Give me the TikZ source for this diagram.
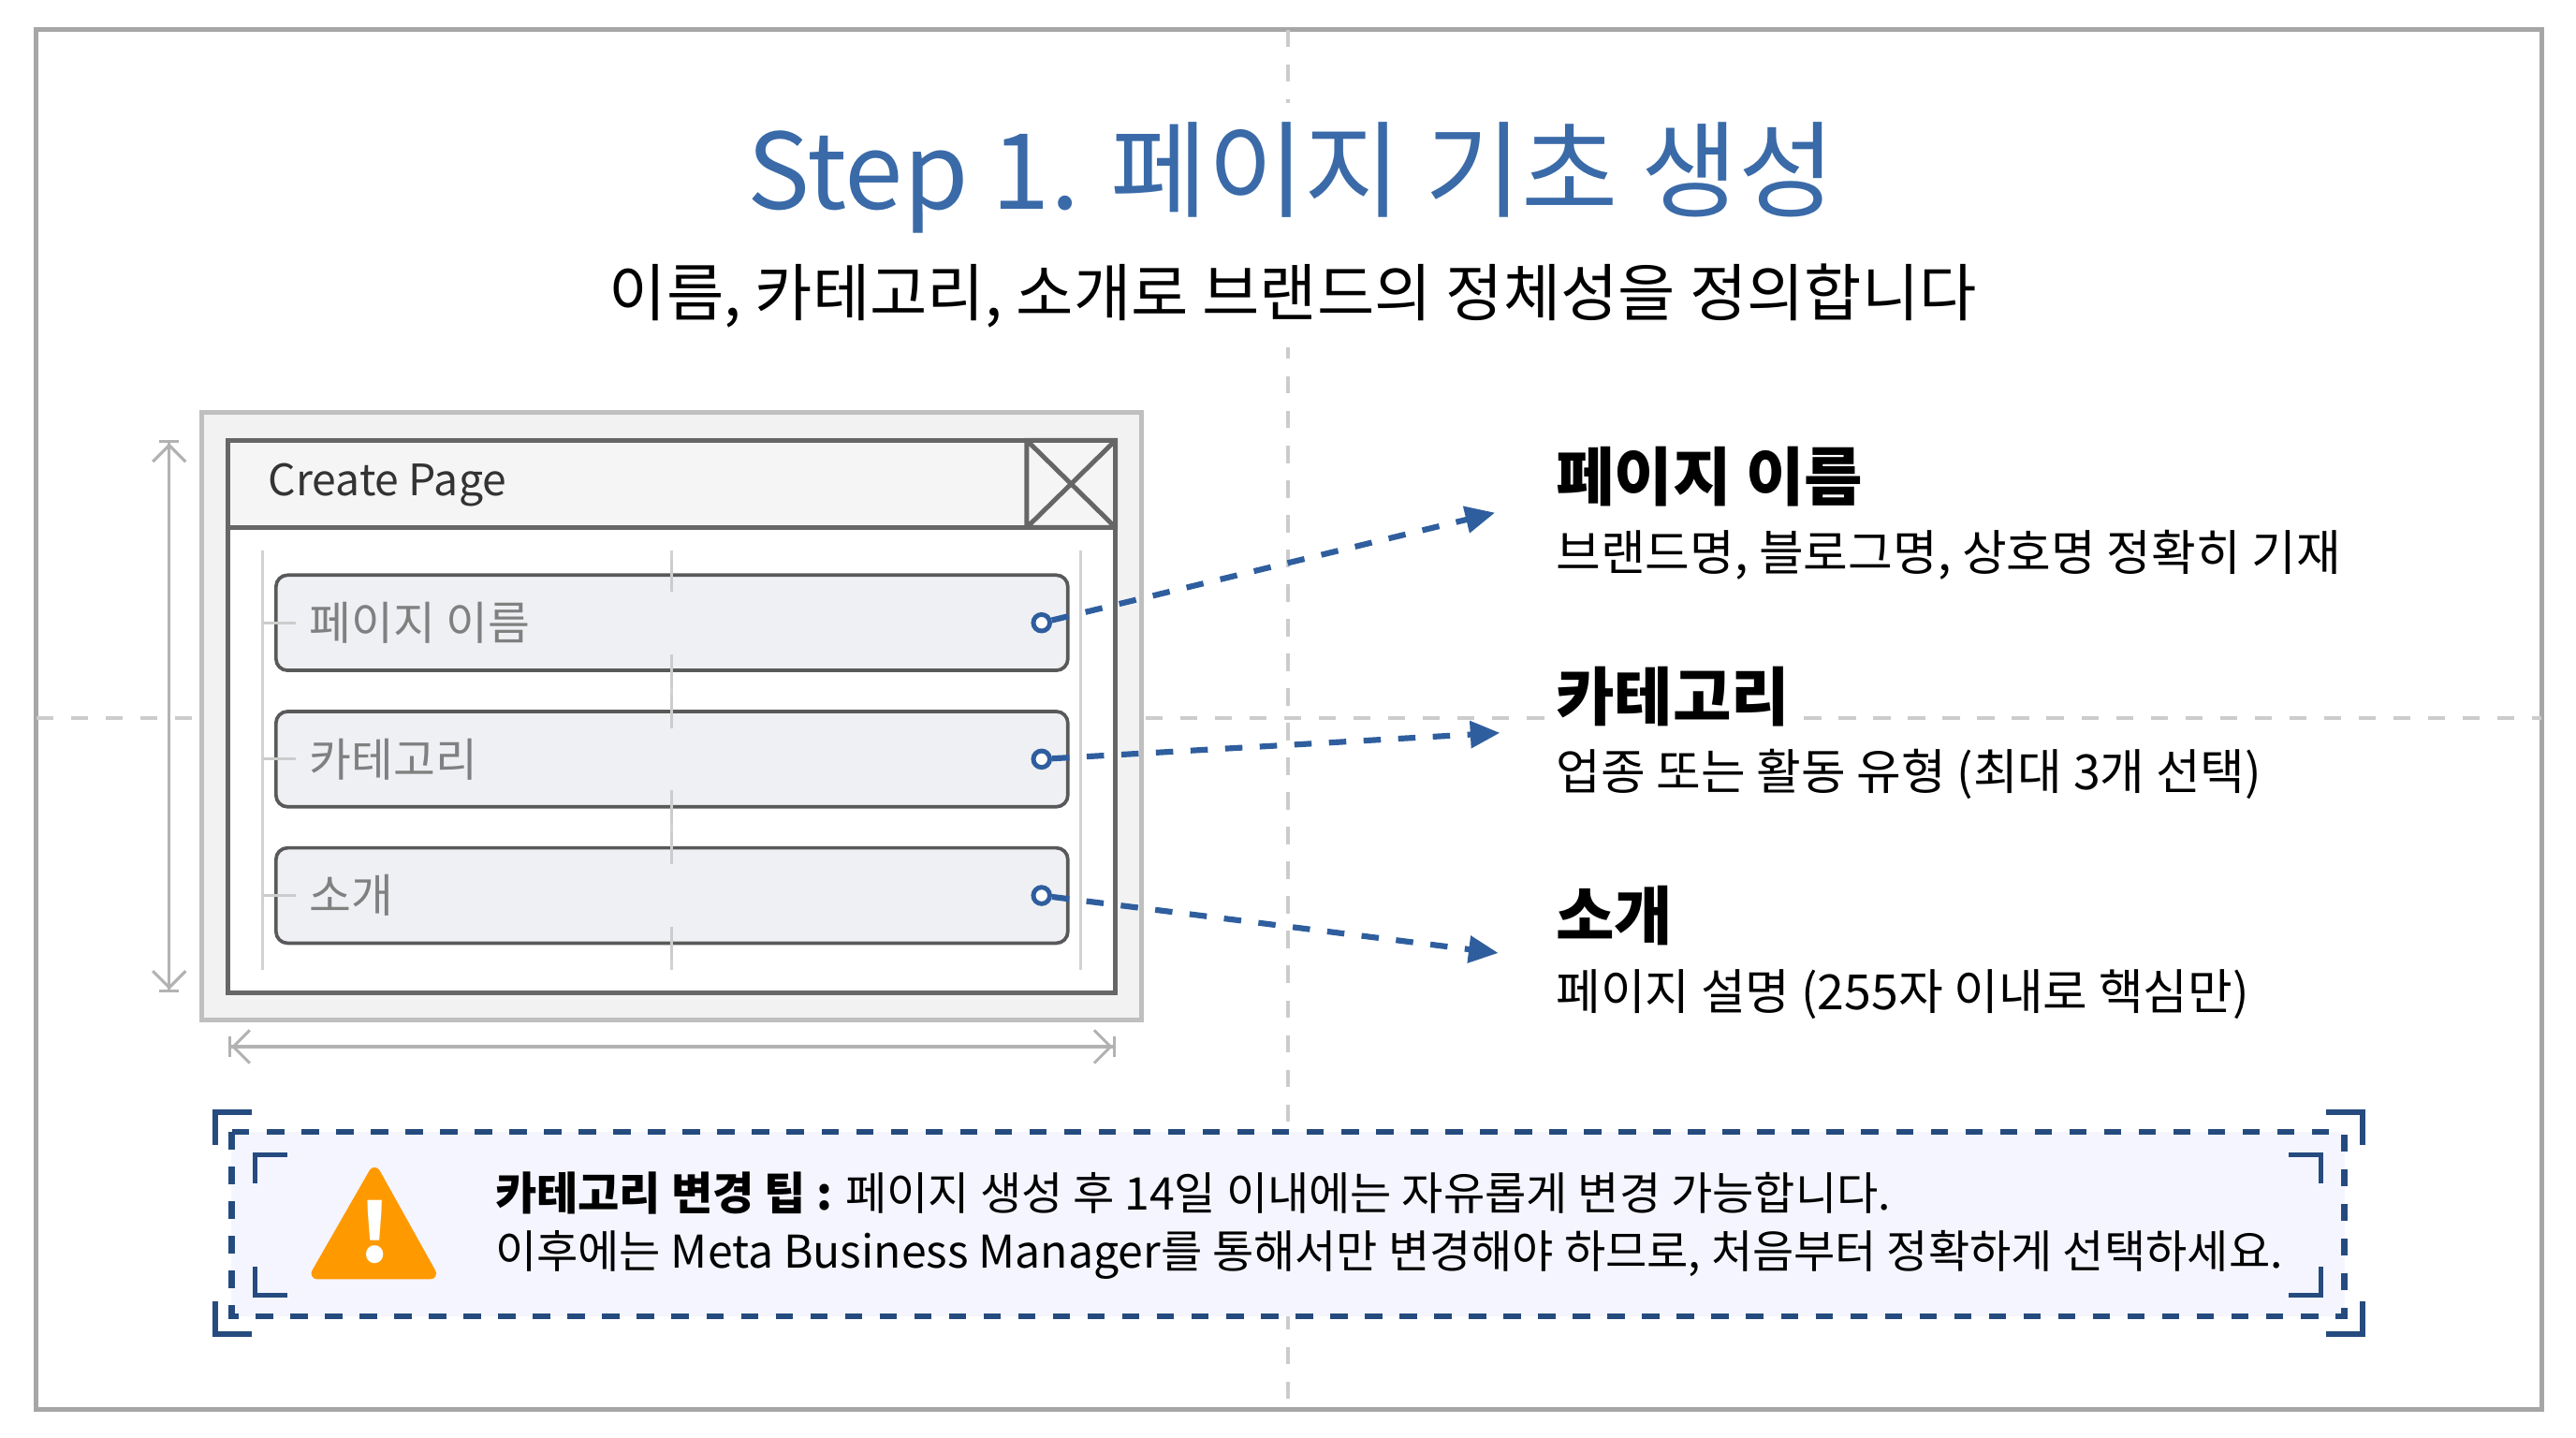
\documentclass[tikz,border=0pt]{standalone}
\usepackage{fontspec}
\setmainfont{Noto Sans CJK KR}
\usetikzlibrary{arrows.meta}
\definecolor{tblue}{HTML}{3A6AA8}
\definecolor{aBlue}{HTML}{2F5E9E}
\definecolor{fgray}{HTML}{EEF0F3}
\begin{document}
\begin{tikzpicture}[x=0.01cm,y=-0.01cm,
 guide/.style={draw=gray!40,dashed,line width=0.5pt},
 field/.style={draw=gray!70!black,fill=fgray,rounded corners=2pt,line width=0.6pt},
 ftext/.style={anchor=west,text=gray,font=\fontsize{7.9}{10}\selectfont},
 dot/.style={circle,draw=aBlue,fill=white,line width=0.8pt,inner sep=0pt,minimum size=0.1cm},
 link/.style={draw=aBlue,dashed,line width=1pt,-{Triangle[length=0.18cm,width=0.16cm]}},
 head/.style={anchor=west,font=\bfseries\fontsize{11}{13}\selectfont,fill=white,inner sep=1pt},
 desc/.style={anchor=west,font=\fontsize{8.4}{10}\selectfont,fill=white,inner sep=1pt},
 dim/.style={draw=gray!60,line width=0.5pt,{Bar[width=0.12cm]Straight Barb[length=0.1cm]}-{Straight Barb[length=0.1cm]Bar[width=0.12cm]}},
 brk/.style={draw=aBlue!80!black,line width=1pt}]
\useasboundingbox (0,0) rectangle (1568,875);
\fill[white] (0,0) rectangle (1568,875);
\draw[gray!70,line width=0.8pt] (22,18) rectangle (1547,858);
\draw[guide] (784,18) -- (784,858);
\draw[guide] (22,437) -- (1547,437);
\node[fill=white,text=tblue,font=\fontsize{18.2}{22}\selectfont] (title) at (786,108) {Step 1. 페이지 기초 생성};
\node[fill=white,font=\fontsize{10.8}{13}\selectfont] (sub) at (787,180) {이름, 카테고리, 소개로 브랜드의 정체성을 정의합니다};
% form
\draw[gray!50,fill=gray!10,line width=0.8pt] (123,251) rectangle (695,621);
\draw[gray!80!black,fill=white,line width=0.8pt] (139,268) rectangle (679,604);
\draw[gray!80!black,fill=gray!8,line width=0.8pt] (139,268) rectangle (679,321);
\node[anchor=west,font=\fontsize{7.5}{9}\selectfont,text=black!80] (cp) at (151,295) {Create Page};
\draw[gray!80!black,line width=0.8pt] (625,268) rectangle (679,321) (625,268)--(679,321) (679,268)--(625,321);
\draw[gray!35,line width=0.5pt] (409,335)--(409,590) (160,335)--(160,590) (658,335)--(658,590);
\foreach \y/\t/\n in {379/페이지 이름/a,462/카테고리/b,545/소개/c}{
 \draw[field] (168,\y-29) rectangle (650,\y+29);
 \draw[gray!40,line width=0.5pt] (160,\y)--(180,\y) (409,\y-39)--(409,\y-19) (409,\y+19)--(409,\y+39);
 \node[ftext] at (176,\y) {\t};
 \node[dot] (d\n) at (634,\y) {};
}
\draw[dim] (103,268) -- (103,604);
\draw[dim] (139,637) -- (679,637);
% right labels
\coordinate (ea) at (910,312); \coordinate (eb) at (913,446); \coordinate (ec) at (912,580);
\draw[link] (da) -- (ea);
\draw[link] (db) -- (eb);
\draw[link] (dc) -- (ec);
\node[head] (h1) at (943,290) {페이지 이름};
\node[desc] (t1) at (943,338) {브랜드명, 블로그명, 상호명 정확히 기재};
\node[head] (h2) at (943,424) {카테고리};
\node[desc] (t2) at (943,471) {업종 또는 활동 유형 (최대 3개 선택)};
\node[head] (h3) at (943,557) {소개};
\node[desc] (t3) at (943,605) {페이지 설명 (255자 이내로 핵심만)};
% tip box
\draw[aBlue!80!black,dashed,fill=blue!4,line width=1pt] (141,689) rectangle (1427,801);
\draw[brk] (131,697)--(131,677)--(153,677) (1416,677)--(1438,677)--(1438,697)
 (131,792)--(131,812)--(153,812) (1416,812)--(1438,812)--(1438,792);
\draw[brk,line width=0.8pt] (155,720)--(155,703)--(175,703) (1393,703)--(1413,703)--(1413,720)
 (155,771)--(155,788)--(175,788) (1393,788)--(1413,788)--(1413,771);
\draw[fill=orange!80!yellow,draw=orange!80!yellow,line width=2pt,line join=round] (228,714)--(262,775)--(193,775)--cycle;
\node[text=white,font=\bfseries\fontsize{14}{16}\selectfont] (ex) at (228,750) {!};
\node[anchor=west,font=\fontsize{7.8}{10}\selectfont] (tip1) at (289,726) {\textbf{카테고리 변경 팁 :} 페이지 생성 후 14일 이내에는 자유롭게 변경 가능합니다.};
\node[anchor=west,font=\fontsize{7.8}{10}\selectfont] (tip2) at (289,764) {이후에는 Meta Business Manager를 통해서만 변경해야 하므로, 처음부터 정확하게 선택하세요.};
\end{tikzpicture}
\end{document}
